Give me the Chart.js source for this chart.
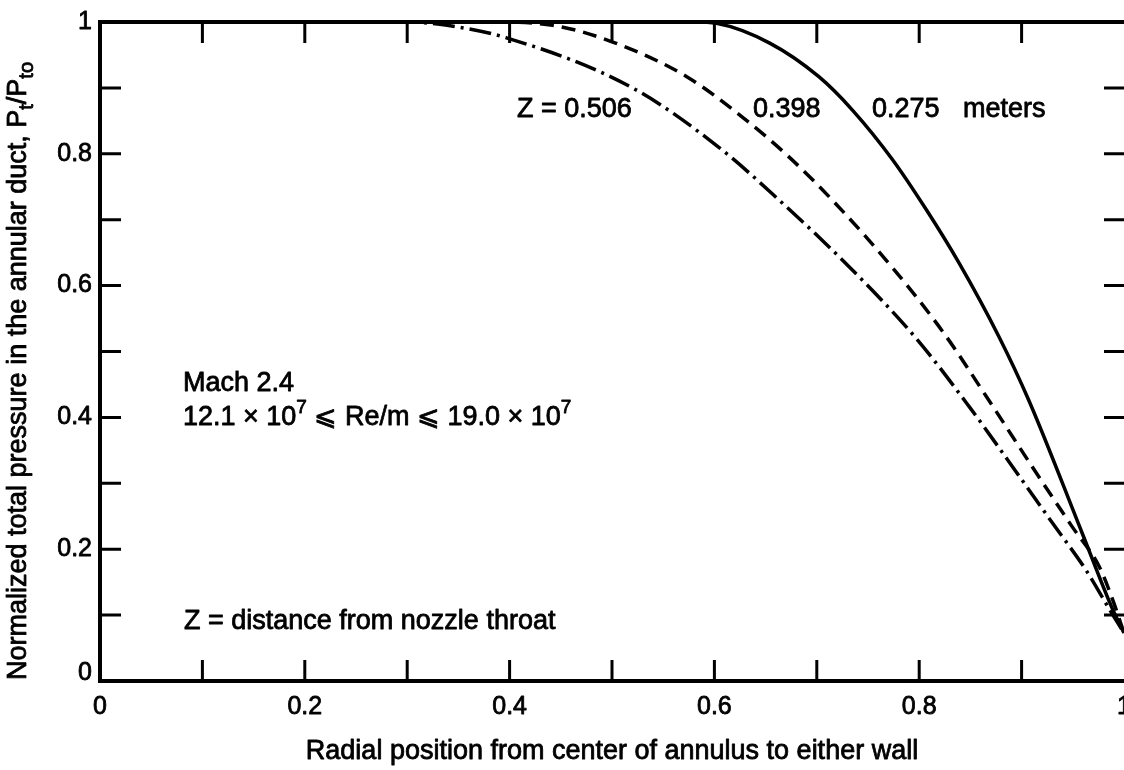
<!DOCTYPE html>
<html lang="en">
<head>
<meta charset="UTF-8">
<title>Normalized total pressure in the annular duct</title>
<script src="https://cdn.jsdelivr.net/npm/chart.js"></script>
<style>
  html, body { margin: 0; padding: 0; background: #fff; }
  canvas { display: block; }
</style>
</head>
<body>
<canvas id="chart" width="1124" height="770"></canvas>
<script>
// radial position (x) and Pt/Pto (y)
const z275X = [0, 0.58, 0.602, 0.654, 0.702, 0.735, 0.774, 0.807, 0.839, 0.878, 0.907, 0.959, 0.988, 1.0];
const z275Y = [1, 1, 0.998, 0.968, 0.917, 0.866, 0.791, 0.715, 0.634, 0.522, 0.426, 0.225, 0.112, 0.073];

const z398X = [0, 0.38, 0.442, 0.5, 0.573, 0.631, 0.673, 0.715, 0.774, 0.824, 0.868, 0.91, 0.949, 0.976, 0.989, 1.0];
const z398Y = [1, 1, 0.995, 0.97, 0.917, 0.851, 0.795, 0.73, 0.627, 0.528, 0.426, 0.326, 0.235, 0.173, 0.123, 0.073];

const z506X = [0, 0.3, 0.339, 0.397, 0.52, 0.605, 0.663, 0.732, 0.797, 0.849, 0.888, 0.93, 0.963, 0.988, 1.0];
const z506Y = [1, 1, 0.995, 0.976, 0.9, 0.809, 0.73, 0.628, 0.52, 0.416, 0.332, 0.24, 0.168, 0.103, 0.073];

const xTickValues = [0, 0.2, 0.4, 0.6, 0.8, 1];
const xTickLabels = ['0', '0.2', '0.4', '0.6', '0.8', '1'];
const yTickValues = [0, 0.2, 0.4, 0.6, 0.8, 1];
const yTickLabels = ['0', '0.2', '0.4', '0.6', '0.8', '1'];
const minorTicks = [0.1, 0.2, 0.3, 0.4, 0.5, 0.6, 0.7, 0.8, 0.9];

const FONT = '"Liberation Sans", Arial, sans-serif';

function pts(xs, ys) {
    return xs.map((x, i) => ({ x: x, y: ys[i] }));
}

// fill plus a thin stroke so the type looks as heavy as the printed figure
function txt(ctx, s, x, y) {
    ctx.fillText(s, x, y);
    ctx.strokeText(s, x, y);
}

// draws a run of text pieces, some of them sub/superscripted
function richText(ctx, parts, x, y) {
    let cx = x;
    parts.forEach(p => {
        ctx.font = p.size + 'px ' + FONT;
        txt(ctx, p.t, cx, y + (p.dy || 0));
        cx += ctx.measureText(p.t).width;
    });
}

const framePlugin = {
    id: 'frame',
    afterDatasetsDraw(chart) {
        const { ctx, scales: { x, y } } = chart;
        const x0 = x.getPixelForValue(0), x1 = x.getPixelForValue(1);
        const y0 = y.getPixelForValue(0), y1 = y.getPixelForValue(1);
        ctx.save();
        ctx.strokeStyle = '#000';
        ctx.fillStyle = '#000';

        // axis lines (left, top, bottom)
        ctx.lineWidth = 4;
        ctx.beginPath();
        ctx.moveTo(x0, y1); ctx.lineTo(x1, y1);
        ctx.moveTo(x0, y0); ctx.lineTo(x1, y0);
        ctx.moveTo(x0, y1 - 2); ctx.lineTo(x0, y0 + 2);
        ctx.stroke();

        // inward ticks on all four sides
        ctx.lineWidth = 3;
        ctx.beginPath();
        minorTicks.forEach(v => {
            const px = x.getPixelForValue(v);
            ctx.moveTo(px, y0); ctx.lineTo(px, y0 - 21);
            ctx.moveTo(px, y1); ctx.lineTo(px, y1 + 21);
            const py = y.getPixelForValue(v);
            ctx.moveTo(x0, py); ctx.lineTo(x0 + 21, py);
            ctx.moveTo(x1, py); ctx.lineTo(x1 - 20, py);
        });
        ctx.stroke();

        ctx.lineWidth = 0.8;
        ctx.lineJoin = 'round';

        // tick labels
        ctx.font = '25px ' + FONT;
        ctx.textAlign = 'center';
        ctx.textBaseline = 'middle';
        xTickValues.forEach((v, i) => {
            txt(ctx, xTickLabels[i], x.getPixelForValue(v), y0 + 26);
        });
        ctx.textAlign = 'right';
        yTickValues.forEach((v, i) => {
            let py = y.getPixelForValue(v);
            if (v === 0) py -= 8;
            txt(ctx, yTickLabels[i], x0 - 8, py);
        });

        // axis titles
        ctx.textAlign = 'center';
        ctx.font = '27px ' + FONT;
        txt(ctx, 'Radial position from center of annulus to either wall', 612, 752);

        const yTitle = [
            { t: 'Normalized total pressure in the annular duct, P', size: 27 },
            { t: 't', size: 20, dy: 7 },
            { t: '/P', size: 27 },
            { t: 'to', size: 20, dy: 7 }
        ];
        ctx.save();
        ctx.translate(26, 680);
        ctx.rotate(-Math.PI / 2);
        ctx.textAlign = 'left';
        ctx.textBaseline = 'alphabetic';
        richText(ctx, yTitle, 0, 0);
        ctx.restore();

        // annotations
        ctx.textAlign = 'left';
        ctx.textBaseline = 'middle';
        ctx.font = '27px ' + FONT;
        txt(ctx, 'Z = 0.506', 517, 110);
        txt(ctx, '0.398', 753, 110);
        txt(ctx, '0.275', 872, 110);
        txt(ctx, 'meters', 963, 110);
        txt(ctx, 'Mach 2.4', 183, 384);
        txt(ctx, 'Z = distance from nozzle throat', 184, 622);
        richText(ctx, [
            { t: '12.1 \u00d7 10', size: 27 },
            { t: '7', size: 19, dy: -10 },
            { t: ' \u2a7d Re/m \u2a7d 19.0 \u00d7 10', size: 27 },
            { t: '7', size: 19, dy: -10 }
        ], 183, 418);
        ctx.restore();
    }
};

const lineStyle = {
    borderColor: '#000',
    borderWidth: 3.5,
    pointRadius: 0,
    fill: false,
    cubicInterpolationMode: 'monotone'
};

new Chart(document.getElementById('chart'), {
    type: 'line',
    data: {
        datasets: [
            Object.assign({ label: 'Z = 0.275 m', data: pts(z275X, z275Y) }, lineStyle),
            Object.assign({ label: 'Z = 0.398 m', data: pts(z398X, z398Y), borderDash: [14, 8] }, lineStyle),
            Object.assign({ label: 'Z = 0.506 m', data: pts(z506X, z506Y), borderDash: [22, 6, 3, 6] }, lineStyle)
        ]
    },
    options: {
        responsive: false,
        animation: false,
        layout: { padding: { left: 100, top: 22, right: 0, bottom: 89 } },
        scales: {
            x: { type: 'linear', min: 0, max: 1, display: false },
            y: { type: 'linear', min: 0, max: 1, display: false }
        },
        plugins: { legend: { display: false }, tooltip: { enabled: false } }
    },
    plugins: [framePlugin]
});
</script>
</body>
</html>
